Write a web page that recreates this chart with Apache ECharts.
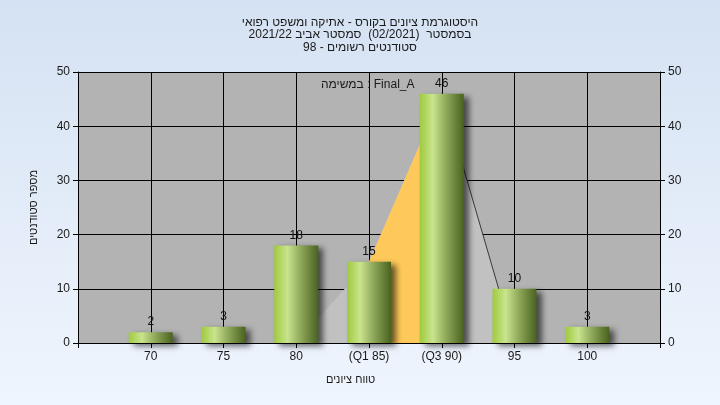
<!DOCTYPE html>
<html><head><meta charset="utf-8">
<script src="https://cdn.jsdelivr.net/npm/echarts@6/dist/echarts.min.js"></script>
<style>html,body{margin:0;padding:0;}#c{width:720px;height:405px;}</style>
</head><body><div id="c"></div>
<script>
const titleLines = ['היסטוגרמת ציונים בקורס - אתיקה ומשפט רפואי', 'בסמסטר  (02/2021)  סמסטר אביב 2021/22', 'סטודנטים רשומים - 98'];
const categories = [70, 75, 80, 85, 90, 95, 100];
const tickLabels = ['70', '75', '80', '(Q1 85)', '(Q3 90)', '95', '100'];
const counts = [2, 3, 18, 15, 46, 10, 3];
const distX = [80, 85, 90, 95];
const distY = [0, 15, 46, 0];
const iqrX = [85, 90];
const iqrY = [15, 46];
const tailX = [90, 95];
const tailY = [46, 0];
const yAxisName = 'מספר סטודנטים';
const xAxisName = 'טווח ציונים';
const note = 'במשימה : Final_A';

const FONT = '"Liberation Sans", Arial, sans-serif';
const labelMap = {};
categories.forEach((c, i) => labelMap[c] = tickLabels[i]);
const pairs = (xs, ys) => xs.map((x, i) => [x, ys[i]]);

const chart = echarts.init(document.getElementById('c'), null, {renderer: 'canvas'});
chart.setOption({
  animation: false,
  backgroundColor: new echarts.graphic.LinearGradient(0, 0, 0, 1, [
    {offset: 0, color: '#d5e2f3'}, {offset: 1, color: '#eff5fd'}]),
  textStyle: {fontFamily: FONT},
  title: {
    text: titleLines.join('\n'), left: 'center', top: 11,
    textStyle: {fontSize: 12, fontWeight: 'normal', color: '#1a1a1a', lineHeight: 12.5, fontFamily: FONT}
  },
  graphic: [
    {type: 'text', left: 321, top: 79, style: {text: note, fontSize: 12, fill: '#1a1a1a', fontFamily: FONT}, z: 50},
    {type: 'text', left: 326, top: 374, style: {text: xAxisName, fontSize: 11, fill: '#1a1a1a', fontFamily: FONT}}
  ],
  grid: {left: 78, right: 60, top: 72, bottom: 62, show: true, backgroundColor: '#b3b3b3', borderWidth: 0},
  xAxis: {
    type: 'value', min: 65, max: 105, interval: 5,
    axisLine: {show: true, lineStyle: {color: '#000', width: 1}},
    axisTick: {show: true, length: 5, lineStyle: {color: '#000'}},
    axisLabel: {color: '#1a1a1a', fontSize: 12, margin: 8, formatter: v => labelMap[v] || ''},
    splitLine: {show: true, lineStyle: {color: '#000', width: 1}}
  },
  yAxis: [{
    type: 'value', min: 0, max: 50, interval: 10,
    name: yAxisName, nameLocation: 'middle', nameGap: 39, nameRotate: 90,
    nameTextStyle: {fontSize: 11, color: '#1a1a1a'},
    axisLine: {show: true, lineStyle: {color: '#000'}},
    axisTick: {show: true, length: 5, lineStyle: {color: '#000'}},
    axisLabel: {color: '#1a1a1a', fontSize: 12, margin: 8},
    splitLine: {show: true, lineStyle: {color: '#000', width: 1}}
  }, {
    type: 'value', min: 0, max: 50, interval: 10, position: 'right',
    axisLine: {show: true, lineStyle: {color: '#000'}},
    axisTick: {show: true, length: 5, lineStyle: {color: '#000'}},
    axisLabel: {color: '#1a1a1a', fontSize: 12, margin: 8},
    splitLine: {show: false}
  }],
  series: [
    {type: 'line', data: pairs(distX, distY), symbol: 'none', z: 1,
     lineStyle: {width: 0}, areaStyle: {color: '#c1c1c1', opacity: 1}},
    {type: 'line', data: pairs(iqrX, iqrY), symbol: 'none', z: 1,
     lineStyle: {width: 0}, areaStyle: {color: '#fec95a', opacity: 1, origin: 'start'}},
    {type: 'line', data: pairs(tailX, tailY), symbol: 'none', z: 1,
     lineStyle: {width: 1, color: '#3a3a3a'}},
    {type: 'bar', data: pairs(categories, counts), barWidth: 44, z: 3,
     itemStyle: {
       color: new echarts.graphic.LinearGradient(0, 0, 1, 0, [
         {offset: 0, color: '#9fca3e'}, {offset: 0.3, color: '#c9e48e'},
         {offset: 0.6, color: '#8fa85a'}, {offset: 1, color: '#49621f'}]),
       shadowColor: 'rgba(0,0,0,0.6)', shadowBlur: 6, shadowOffsetX: 5, shadowOffsetY: 3
     },
     label: {show: true, position: 'top', distance: 4, color: '#111', fontSize: 12}}
  ]
});
</script></body></html>
